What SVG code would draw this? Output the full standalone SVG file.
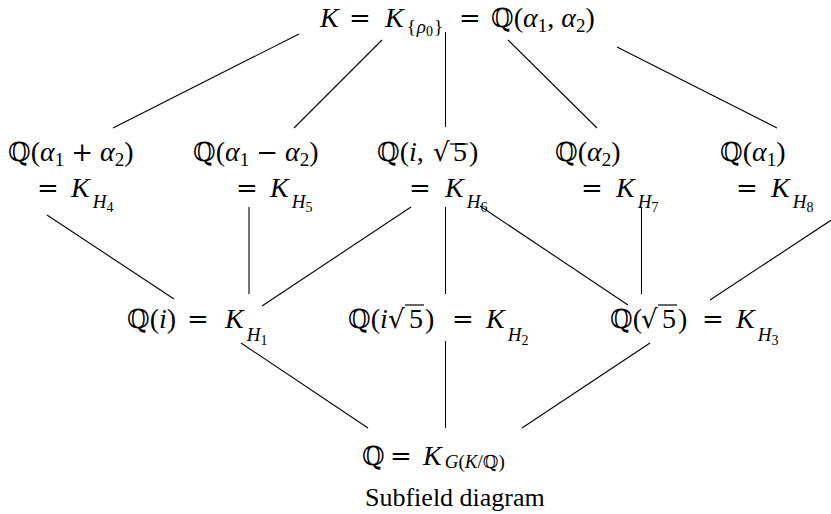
<svg xmlns="http://www.w3.org/2000/svg" width="831" height="514" viewBox="0 0 831 514">
<style>
text{font-family:"Liberation Serif","DejaVu Serif",serif;font-size:28px;fill:#000}
.i{font-style:italic}
.s{font-size:19px}
.ss{font-size:14px}
.bb{font-family:"DejaVu Serif","DejaVu Sans",serif;font-size:26px}
.op{font-family:"DejaVu Serif",serif;font-size:26px}
.cap{font-size:26px}
.e line{stroke:#000;stroke-width:1.1}
.v{stroke:#000;stroke-width:1.2}
</style>
<rect width="831" height="514" fill="#fff"/>
<g id="connectors" class="e">
<line x1="299" y1="34" x2="113" y2="128"/>
<line x1="382" y1="40" x2="294" y2="128"/>
<line x1="445.5" y1="32" x2="445.5" y2="127"/>
<line x1="508" y1="40" x2="597" y2="128"/>
<line x1="617" y1="47" x2="777" y2="128"/>
<line x1="47" y1="215" x2="174" y2="299"/>
<line x1="249" y1="207" x2="249" y2="294"/>
<line x1="411" y1="207" x2="262" y2="306"/>
<line x1="445.5" y1="207" x2="445.5" y2="294"/>
<line x1="480" y1="206" x2="628" y2="305"/>
<line x1="641.5" y1="207" x2="641.5" y2="294"/>
<line x1="842" y1="213" x2="710" y2="300"/>
<line x1="241" y1="343" x2="368" y2="428"/>
<line x1="445.5" y1="341" x2="445.5" y2="428"/>
<line x1="650" y1="343" x2="522" y2="428"/>
</g>
<g id="nodeK">
<text y="27"><tspan x="320" class="i">K</tspan><tspan x="349" class="op">=</tspan><tspan x="385" class="i">K</tspan><tspan dx="3" y="33" class="s">{</tspan><tspan class="s i" dx="1">ρ</tspan><tspan class="ss" y="36">0</tspan><tspan class="s" y="33" dx="1">}</tspan><tspan x="459" y="27" class="op">=</tspan><tspan x="491" class="bb">ℚ</tspan><tspan>(</tspan><tspan class="i">α</tspan><tspan class="s" y="32">1</tspan><tspan y="27">, </tspan><tspan class="i">α</tspan><tspan class="s" y="32">2</tspan><tspan y="27">)</tspan></text>
</g>
<g id="nodeH4">
<text y="161"><tspan x="8" class="bb">ℚ</tspan><tspan>(</tspan><tspan class="i">α</tspan><tspan class="s" y="166">1</tspan><tspan y="161"> </tspan><tspan class="op">+</tspan><tspan> </tspan><tspan class="i">α</tspan><tspan class="s" y="166">2</tspan><tspan y="161">)</tspan></text>
<text y="197"><tspan x="37" class="op">=</tspan><tspan x="71" class="i">K</tspan><tspan dx="3" y="208" class="s i">H</tspan><tspan class="ss" y="212">4</tspan></text>
</g>
<g id="nodeH5">
<text y="161"><tspan x="193" class="bb">ℚ</tspan><tspan>(</tspan><tspan class="i">α</tspan><tspan class="s" y="166">1</tspan><tspan y="161"> </tspan><tspan class="op">−</tspan><tspan> </tspan><tspan class="i">α</tspan><tspan class="s" y="166">2</tspan><tspan y="161">)</tspan></text>
<text y="197"><tspan x="236" class="op">=</tspan><tspan x="270" class="i">K</tspan><tspan dx="3" y="208" class="s i">H</tspan><tspan class="ss" y="212">5</tspan></text>
</g>
<g id="nodeH6">
<text y="161"><tspan x="377" class="bb">ℚ</tspan><tspan>(</tspan><tspan class="i">i</tspan><tspan>,</tspan><tspan x="433" class="op">√</tspan><tspan x="453">5</tspan><tspan x="469">)</tspan></text>
<line class="v" x1="450" y1="144" x2="468" y2="144"/>
<text y="197"><tspan x="409" class="op">=</tspan><tspan x="445" class="i">K</tspan><tspan dx="3" y="208" class="s i">H</tspan><tspan class="ss" y="212">6</tspan></text>
</g>
<g id="nodeH7">
<text y="161"><tspan x="555" class="bb">ℚ</tspan><tspan>(</tspan><tspan class="i">α</tspan><tspan class="s" y="166">2</tspan><tspan y="161">)</tspan></text>
<text y="197"><tspan x="581" class="op">=</tspan><tspan x="616" class="i">K</tspan><tspan dx="3" y="208" class="s i">H</tspan><tspan class="ss" y="212">7</tspan></text>
</g>
<g id="nodeH8">
<text y="161"><tspan x="720" class="bb">ℚ</tspan><tspan>(</tspan><tspan class="i">α</tspan><tspan class="s" y="166">1</tspan><tspan y="161">)</tspan></text>
<text y="197"><tspan x="736" class="op">=</tspan><tspan x="771" class="i">K</tspan><tspan dx="3" y="208" class="s i">H</tspan><tspan class="ss" y="212">8</tspan></text>
</g>
<g id="nodeH1">
<text y="328"><tspan x="127" class="bb">ℚ</tspan><tspan>(</tspan><tspan class="i">i</tspan><tspan>)</tspan><tspan x="187" class="op">=</tspan><tspan x="225" class="i">K</tspan><tspan dx="3" y="341" class="s i">H</tspan><tspan class="ss" y="345">1</tspan></text>
</g>
<g id="nodeH2">
<text y="328"><tspan x="348" class="bb">ℚ</tspan><tspan>(</tspan><tspan class="i">i</tspan><tspan x="388" class="op">√</tspan><tspan x="409">5</tspan><tspan x="425">)</tspan><tspan x="452" class="op">=</tspan><tspan x="486" class="i">K</tspan><tspan dx="3" y="341" class="s i">H</tspan><tspan class="ss" y="345">2</tspan></text>
<line class="v" x1="405" y1="305" x2="424" y2="305"/>
</g>
<g id="nodeH3">
<text y="328"><tspan x="610" class="bb">ℚ</tspan><tspan>(</tspan><tspan x="641" class="op">√</tspan><tspan x="662">5</tspan><tspan x="678">)</tspan><tspan x="702" class="op">=</tspan><tspan x="736" class="i">K</tspan><tspan dx="3" y="341" class="s i">H</tspan><tspan class="ss" y="345">3</tspan></text>
<line class="v" x1="658" y1="305" x2="677" y2="305"/>
</g>
<g id="nodeQ">
<text y="465"><tspan x="362" class="bb">ℚ</tspan><tspan x="390" class="op">=</tspan><tspan x="423" class="i">K</tspan><tspan dx="3" y="468" class="s i">G</tspan><tspan class="s">(</tspan><tspan class="s i">K</tspan><tspan class="s">/</tspan><tspan class="bb" style="font-size:18px">ℚ</tspan><tspan class="s">)</tspan></text>
</g>
<text class="cap" x="365" y="506">Subfield diagram</text>
</svg>
